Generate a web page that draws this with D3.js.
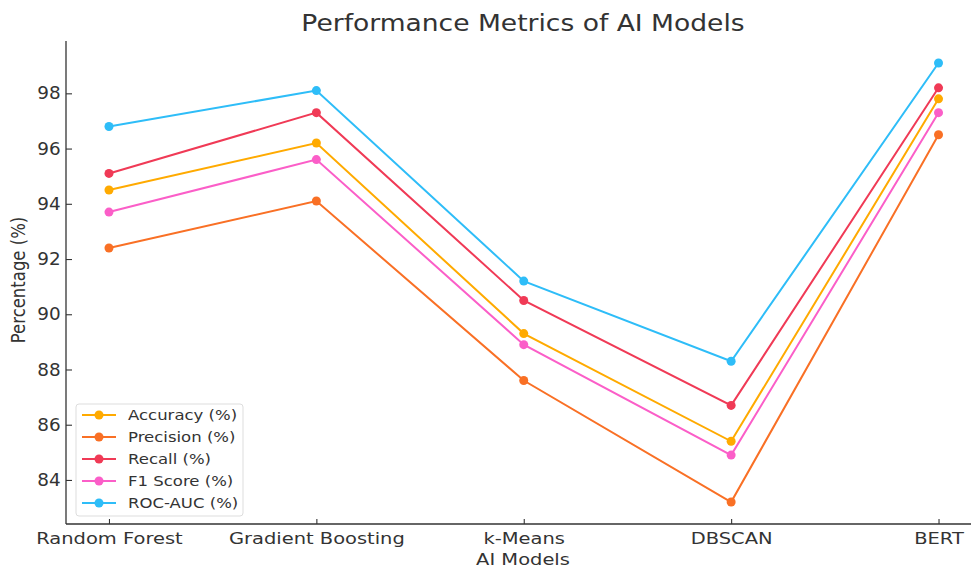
<!DOCTYPE html>
<html><head><meta charset="utf-8">
<script src="https://cdn.jsdelivr.net/npm/d3@7"></script>
<style>body{margin:0;background:#fff;} text{font-family:"DejaVu Sans",sans-serif;fill:#333;}</style>
</head><body>
<svg id="c" width="971" height="568"></svg>
<script>
const categories = ["Random Forest","Gradient Boosting","k-Means","DBSCAN","BERT"];
const seriesNames = ["Accuracy (%)","Precision (%)","Recall (%)","F1 Score (%)","ROC-AUC (%)"];
const accuracy = [94.5, 96.2, 89.3, 85.4, 97.8];
const precision = [92.4, 94.1, 87.6, 83.2, 96.5];
const recall = [95.1, 97.3, 90.5, 86.7, 98.2];
const f1 = [93.7, 95.6, 88.9, 84.9, 97.3];
const rocauc = [96.8, 98.1, 91.2, 88.3, 99.1];
const yTicks = [84, 86, 88, 90, 92, 94, 96, 98];
const colors = ["#ffaa00", "#f97025", "#f03a56", "#fb5ec8", "#2ebdf8"];
const series = [accuracy, precision, recall, f1, rocauc];

const SX = 1.18; // horizontal stretch of the reference text
const svg = d3.select("#c");
const L = 67.5, R = 980, T = 41, B = 524, SPINE = 66;
const all = series.flat();
const mn = d3.min(all), mx = d3.max(all), pad = (mx - mn) * 0.05;
const y = d3.scaleLinear().domain([mn - pad, mx + pad]).range([B, T]);
const x = d3.scalePoint().domain(categories).range([L, R]).padding(0.2);

// axes (ticks pointing inward)
const ya = svg.append("g").attr("transform", `translate(${SPINE},0)`)
  .call(d3.axisLeft(y).tickValues(yTicks).tickSize(-6).tickPadding(5).tickFormat(d3.format("d")));
const xa = svg.append("g").attr("transform", `translate(0,${B})`)
  .call(d3.axisBottom(x).tickSize(-5).tickPadding(8));
[ya, xa].forEach(g => {
  g.select(".domain").attr("stroke", "#333").attr("stroke-width", 1.3);
  g.selectAll(".tick line").attr("stroke", "#333").attr("stroke-width", 1.1);
  g.selectAll(".tick text").attr("fill", "#333");
});
ya.selectAll(".tick text").style("font-size", "17.5px").attr("transform", "scale(1.05,1)");
xa.selectAll(".tick text").style("font-size", "16.5px").attr("transform", `scale(${SX},1)`);
ya.select(".domain").attr("d", `M0,${B}V${T}`);
xa.select(".domain").attr("d", `M${SPINE},0H${R}`);

const line = d3.line().x((d, i) => x(categories[i])).y(d => y(d));
series.forEach((s, k) => {
  svg.append("path").datum(s).attr("d", line).attr("fill", "none")
    .attr("stroke", colors[k]).attr("stroke-width", 2);
  svg.selectAll(null).data(s).enter().append("circle")
    .attr("cx", (d, i) => x(categories[i])).attr("cy", d => y(d)).attr("r", 4.5)
    .attr("fill", colors[k]);
});

svg.append("text").attr("transform", `translate(523,31) scale(${SX},1)`).attr("text-anchor", "middle")
  .style("font-size", "22.5px").text("Performance Metrics of AI Models");
svg.append("text").attr("transform", `translate(523,565) scale(${SX},1)`).attr("text-anchor", "middle")
  .style("font-size", "16.5px").text("AI Models");
svg.append("text").attr("transform", `translate(25,280) rotate(-90) scale(1,${SX})`).attr("text-anchor", "middle")
  .style("font-size", "16.5px").text("Percentage (%)");

// legend
const lg = svg.append("g");
lg.append("rect").attr("x", 76).attr("y", 404).attr("width", 167).attr("height", 112).attr("rx", 3)
  .attr("fill", "#fff").attr("fill-opacity", 0.8).attr("stroke", "#ddd");
seriesNames.forEach((n, k) => {
  const yy = 415 + k * 22;
  lg.append("line").attr("x1", 82).attr("x2", 116).attr("y1", yy).attr("y2", yy)
    .attr("stroke", colors[k]).attr("stroke-width", 2);
  lg.append("circle").attr("cx", 99).attr("cy", yy).attr("r", 4.5).attr("fill", colors[k]);
  lg.append("text").attr("transform", `translate(128,${yy + 5}) scale(${SX},1)`).style("font-size", "14px").text(n);
});
</script>
</body></html>
